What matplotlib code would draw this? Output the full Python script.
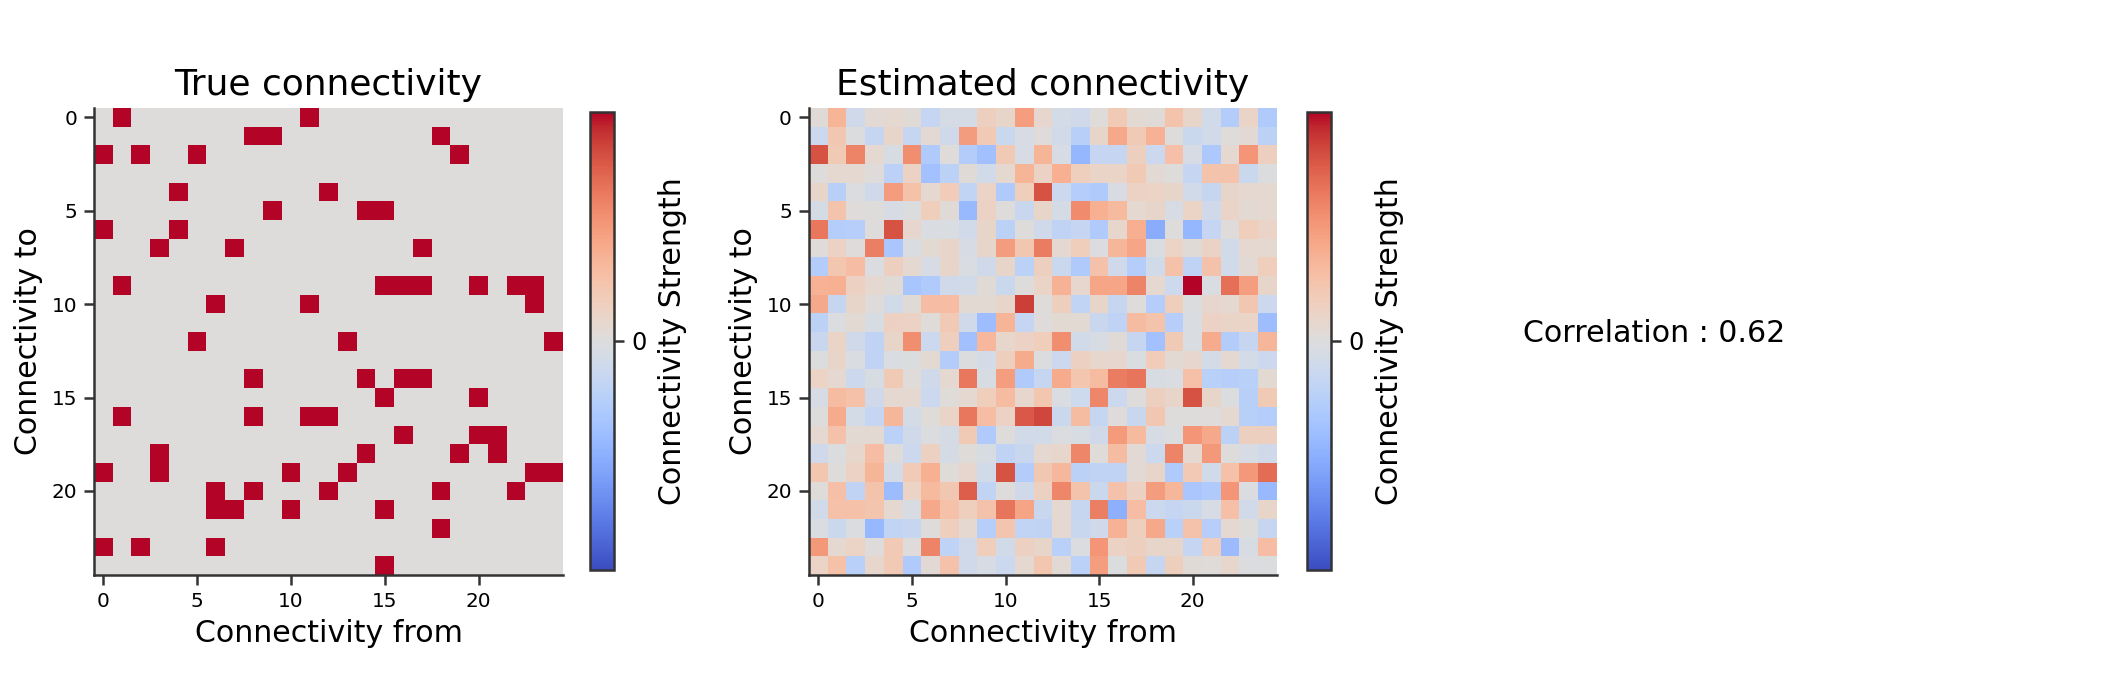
import numpy as np
import matplotlib
matplotlib.use('Agg')
import matplotlib.pyplot as plt

# positions of the ones in the true matrix, one list per row
true_rows = [
    [1, 11], [8, 9, 18], [0, 2, 5, 19], [], [4, 12],
    [9, 14, 15], [0, 4], [3, 7, 17], [], [1, 15, 16, 17, 20, 22, 23],
    [6, 11, 23], [], [5, 13, 24], [], [8, 14, 16, 17],
    [15, 20], [1, 8, 11, 12], [16, 20, 21], [3, 14, 19, 21], [0, 3, 10, 13, 23, 24],
    [6, 8, 12, 18, 22], [6, 7, 10, 15], [18], [0, 2, 6], [15],
]

# estimated matrix (scale -10..10)
estimated = [
    [.3, 3.5, -1, .4, .6, .3, -1.7, -.6, -.6, 1.5, 1, 4.7, .8, -.7, -1, .2, 2, .5, .3, 2.5, 1, -.8, -2.8, 1.1, -3],
    [-1.2, 2.2, -.1, -1.7, 1, -1.5, .4, -1, 4.8, 2, -1.3, -.5, .1, -.9, -2.5, 1, 4.2, 2, 3.6, 0, -1.3, -.9, 0, .4, -2.2],
    [8, 2, 6, .6, -.4, 5.5, -3, .2, -2.8, -3.8, 2, -.5, 3.5, -.5, -4.5, -1.7, -1.6, 1.5, -1.2, 2.8, -.5, -3.2, .7, 5.2, 1.5],
    [0, .6, .6, .1, -2.3, 1.3, -3.7, -2.2, .3, -.8, .7, 3.5, 1.3, 3.8, 1.6, 1.1, 1.1, 2, .4, 0, -1.7, 2.5, 2.5, -1.3, -.1],
    [1, -2.5, -.2, -1, 4.8, 2.7, .6, 1.8, -1.9, 1.2, -2.9, 1.7, 8, -1.2, -2.7, -2.9, -.4, 1.3, 1.2, 1, -.9, -1.5, 1, .7, .7],
    [-.6, 2.5, .1, 0, -.5, -.1, 1.7, .3, -4.3, 1.3, 0, -1.4, 1, -.6, 5.7, 3.8, 3.2, .7, 1, -.5, 1.2, -1, 1.1, .5, .6],
    [6.5, -2.7, -2.6, 0, 8, .8, -.3, -.3, -.9, 1, -2.2, 0, -1, -2, -1.7, -3, .9, 3.9, -5.2, 0, -4.5, -1.7, .1, 1.7, 1.1],
    [.2, 1.3, .1, 6.2, -3.3, -.3, .5, 1, -.5, 1, 4.8, 2.2, 6.3, .7, 1.7, -.2, 3.4, 4.3, -.3, 1.2, .3, 1.3, -.8, .7, .7],
    [-2.8, 2.3, 2.9, -.2, 1.5, .7, -.5, 1, -.3, -1, 1, -2.2, 1.5, -1.3, -2.9, 2.6, -1, -2.7, -.9, 2.7, -2, 2.6, -.9, .4, 1.7],
    [3.7, 3.8, 1.4, .6, .3, -3.4, -2.9, -1, -.9, .3, -1.3, 0, 1.1, 3.6, .8, 4.3, 4.3, 6, .6, -1.1, 10, -.3, 6.8, 4.7, 1],
    [4.2, -1.6, 1, .1, -.9, .3, 2.9, 2.9, .5, .5, 1, 8.6, 0, 1.6, -1.9, 1, -1.6, 0, -2.7, 1.7, -.1, .8, .7, 2.2, -1.2],
    [-2.2, -.2, .5, -.4, 1.4, 1.3, .2, 2, -1, -4, 3.5, -1.7, .1, .5, .5, -1.4, -2, 3, 2.5, -2.6, -.3, 1.3, 1.1, 1.1, -4],
    [-1.4, 1.1, -1, -2, 1, 5.5, -1.2, 1.6, -3.8, 3.3, .9, 1.3, 1.7, 5.5, -.9, -.5, .3, -1.5, -3.7, 2, -.3, 4, -2.8, -1.6, 3.4],
    [-.1, 1, -.3, -2, -.3, -.1, .5, -2.8, -.1, -.7, 1.6, 4, -.1, -1.2, 1.4, .9, .8, -.3, 1.8, .5, .8, -.7, .7, -.7, -1.2],
    [1.2, .6, -1.2, -.4, 2, .2, -1, .6, 6.5, -.4, 4.7, -3, -1.5, 4, 2.3, 3, 6.3, 6.6, -.4, -.3, 2.8, -2.4, -2.6, -2.4, .5],
    [-.5, 3, 2.7, -1, .6, .6, -1.2, .2, .6, 1.7, 3, .8, 2.3, -.3, -1.1, 5.8, -1.2, 0, 1.5, 1, 8, 1, -.1, -2.5, 2],
    [0, 4, -.7, -1.7, 3.4, -.7, .2, 1.1, 6.5, 2.9, 1.3, 7.8, 8.4, -1.3, 3, -1.6, .1, -1.4, 2.2, 0, 0, .1, .6, -2.5, -2.7],
    [.6, 2.6, .5, .5, -2.3, -1, -.2, -.6, 2, -2.9, 0, -.9, -.9, -.2, -.4, -1, 4.9, 3.2, -.5, -.1, 5.2, 4.2, -2.2, 1.5, 1.5],
    [-1, -.1, .9, 2.9, .2, -1.2, 1.4, -.6, .2, -.4, -2, -1.4, .7, .9, 5.8, .2, 3, .4, -1.2, 6, .6, 5, 0, -.5, -1],
    [2.3, 0, 1.3, 3.5, -.7, 1.9, 3.8, .2, .8, -.8, 8, -2.8, 2.2, 3.3, -2.2, -2, -2, .4, 1, -3, 2.1, -.9, 2.7, 5, 7],
    [.2, 2.8, -2, 2.5, -4.1, 1.2, 3.2, 2.2, 7.5, -1.9, 0, -1, 1.4, 5.8, 2.5, -1.3, 2.6, 1.4, 4.8, 3.4, -3.3, -3, 5.2, -.2, -4.3],
    [-.9, 2.7, 2.7, 2.4, .7, -.4, 4.2, 2.7, 1.6, 2.6, 6.6, 4.4, -1.4, .7, -1.6, 6.2, -5, 2.9, -1.2, -1.7, -1.3, -.5, 2.8, -.9, 1],
    [-.3, -1.3, -.2, -4.4, -1.9, -1.5, 0, 1.6, .7, -2.6, 2.4, -1.9, -2, .6, -1.4, -1, 3.6, 1.6, 4.2, -2.4, 2.6, -2.6, .6, 0, -1.6],
    [5, .6, 1.2, .1, 2.1, .1, 6, -2.1, -1, 1.7, -.8, 1.4, 1, -2.4, -.2, 5.2, 1.3, 1.5, 1, 1, -1.7, 1.8, -4.2, -.4, 2.9],
    [1.2, 2.7, -2.4, .9, 2, -3, .4, 2.6, -1, -.5, -1.2, .7, 2.3, .4, -2.3, 4.7, -.1, 2, -1.5, 1.6, .3, .2, .9, -.2, -.1],
]

tick_labels = [0, 5, 10, 15, 20]
correlation = 0.62

true_mat = np.zeros((25, 25))
for i, cols in enumerate(true_rows):
    true_mat[i, cols] = 1

W, H = 2123, 683
DPI = 144
dark = '#333333'


def box(x0, y0, x1, y1):
    # pixel box (y from the top) to figure fractions
    return [x0 / W, 1 - y1 / H, (x1 - x0) / W, (y1 - y0) / H]


fig = plt.figure(figsize=(W / DPI, H / DPI), dpi=DPI)

panels = [
    (true_mat, 1, 'True connectivity', (94, 108, 563, 575), (590, 112, 614, 570)),
    (np.array(estimated), 10, 'Estimated connectivity', (809, 108, 1277, 575), (1307, 112, 1331, 570)),
]

for mat, vmax, title, ax_box, cb_box in panels:
    ax = fig.add_axes(box(*ax_box))
    im = ax.imshow(mat, cmap='coolwarm', vmin=-vmax, vmax=vmax, aspect='auto', interpolation='nearest')
    ax.set_xticks(tick_labels)
    ax.set_yticks(tick_labels)
    ax.tick_params(labelsize=10, length=5, width=1.25, color=dark)
    ax.spines['top'].set_visible(False)
    ax.spines['right'].set_visible(False)
    ax.spines['left'].set_linewidth(1.25)
    ax.spines['bottom'].set_linewidth(1.25)
    ax.spines['left'].set_color(dark)
    ax.spines['bottom'].set_color(dark)
    ax.set_title(title, fontsize=18, pad=6.5)
    ax.set_xlabel('Connectivity from', fontsize=15, labelpad=4)
    ax.set_ylabel('Connectivity to', fontsize=15, labelpad=4)

    cax = fig.add_axes(box(*cb_box))
    cb = fig.colorbar(im, cax=cax, ticks=[0])
    cb.outline.set_linewidth(1.25)
    cb.outline.set_edgecolor(dark)
    cb.ax.tick_params(labelsize=12, length=5, width=1.25, color=dark)
    cb.set_label('Connectivity Strength', fontsize=15, labelpad=6)

fig.text(1523 / W, 1 - 333 / H, 'Correlation : %.2f' % correlation, fontsize=15, va='center', ha='left')

fig.savefig('out.png', dpi=DPI)
